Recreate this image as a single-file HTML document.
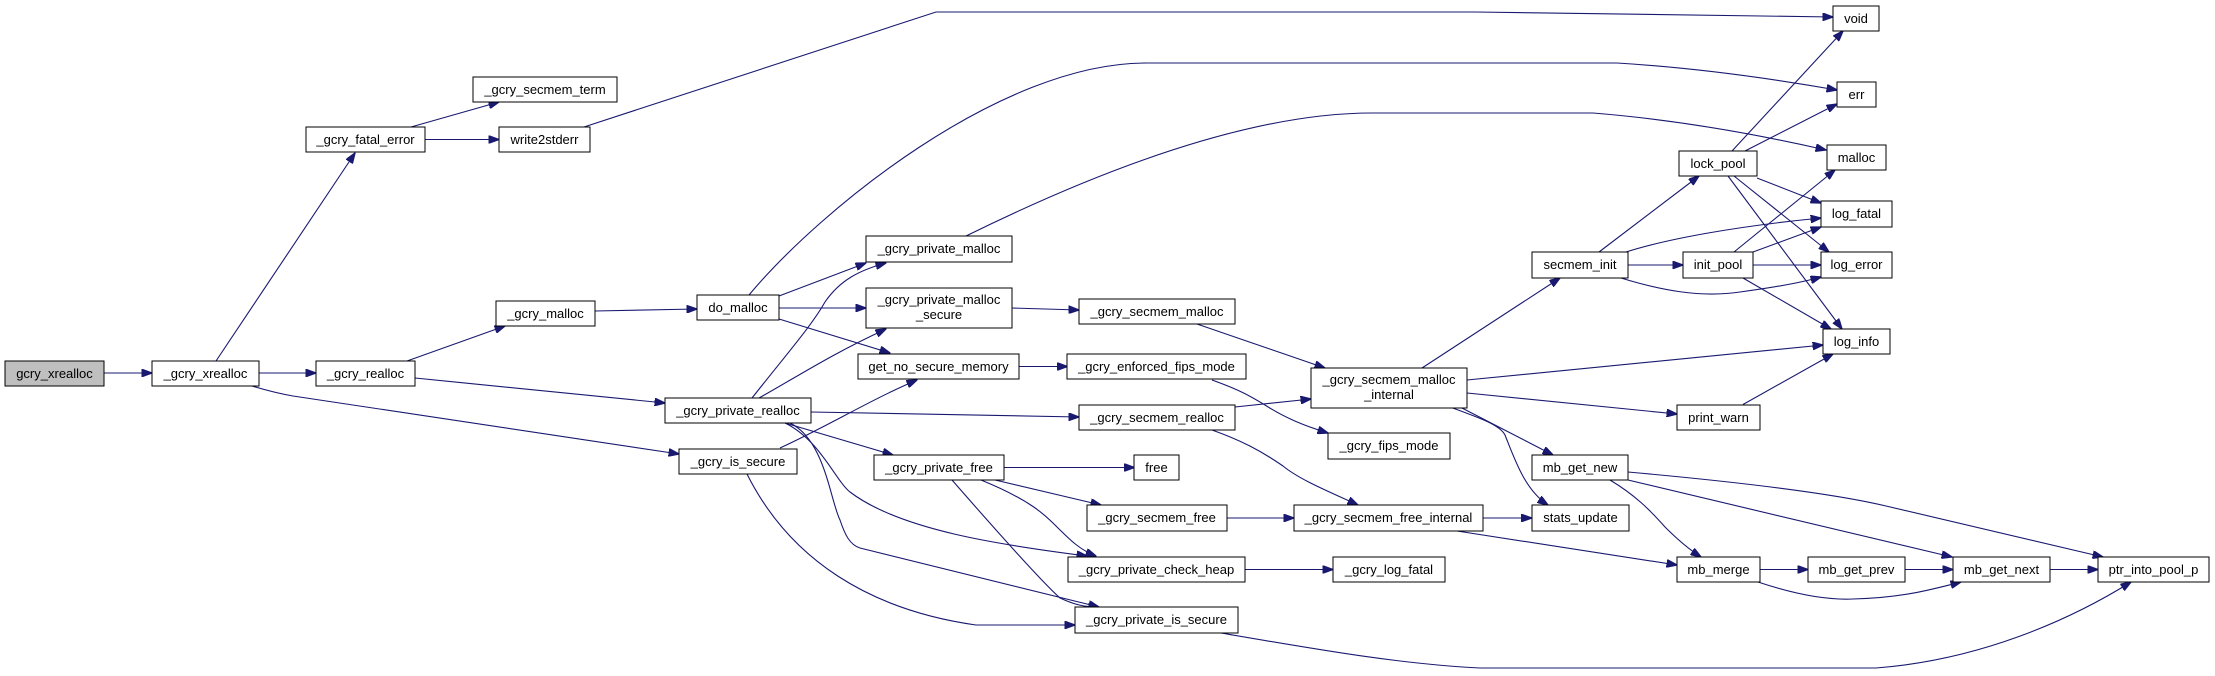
<!DOCTYPE html>
<html><head><meta charset="utf-8"><style>
html,body{margin:0;padding:0;background:#fff;}
svg{display:block}
text{font-family:"Liberation Sans",Arial,sans-serif;font-size:13px;fill:#000;text-anchor:middle}
.n{fill:#fff;stroke:#000;stroke-width:1}
.e{fill:none;stroke:#191970;stroke-width:1.1}
</style></head><body>
<svg width="2215" height="676" viewBox="0 0 2215 676" xmlns="http://www.w3.org/2000/svg">
<defs><marker id="a" markerWidth="11" markerHeight="8" refX="10.5" refY="4" orient="auto" markerUnits="userSpaceOnUse"><path d="M0,0 L11,4 L0,8 z" fill="#191970" stroke="#191970"/></marker></defs>
<g class="e" marker-end="url(#a)">
<path d="M104,373 L152,373"/>
<path d="M216,361 L355,153"/>
<path d="M259,373 L316,373"/>
<path d="M252,386 Q275,393 293,396 L679,454"/>
<path d="M411,127 L499,102"/>
<path d="M425,139.5 L499,139.5"/>
<path d="M584,127 L936,12 L1475,12 L1833,17"/>
<path d="M407,361 L505,326"/>
<path d="M415,378 L665,403"/>
<path d="M595,311 L697,309"/>
<path d="M749,295 C820,210 1000,63 1146,63 L1617,63 C1700,68 1780,80 1837,90"/>
<path d="M779,296 L866,263"/>
<path d="M779,308 L866,308"/>
<path d="M779,319 L890,353"/>
<path d="M966,236 C1100,170 1250,113 1372,113 L1593,113 C1680,120 1760,135 1826,150"/>
<path d="M1012,308 L1079,310"/>
<path d="M1197,324 L1325,368"/>
<path d="M1019,366.5 L1067.5,366.5"/>
<path d="M1212,380 C1240,390 1250,396 1265,405 C1285,418 1305,426 1328,433"/>
<path d="M752,398 C790,350 812,325 825,302 C840,280 860,270 886,263"/>
<path d="M759,398 C800,375 830,355 886,329"/>
<path d="M811,412 L1079,417"/>
<path d="M785,423 L893,455"/>
<path d="M785,423 C820,440 835,480 850,492 C900,530 1000,545 1087,556"/>
<path d="M790,423 C825,440 830,500 840,520 C845,535 850,545 860,548 L1099,607"/>
<path d="M780,448 C830,425 870,400 917,380"/>
<path d="M747,474 C790,560 870,610 976,625 L1075,625"/>
<path d="M1004,467.5 L1134.5,467.5"/>
<path d="M995,480 L1101,505"/>
<path d="M981,480 C1030,500 1045,515 1055,525 C1070,540 1080,550 1096,556"/>
<path d="M952,480 C1000,535 1040,580 1060,598 C1075,605 1085,607 1099,607"/>
<path d="M1227,518 L1294,518"/>
<path d="M1235,407 L1311,399"/>
<path d="M1212,430 C1240,440 1260,450 1283,466 C1300,480 1330,492 1358,505"/>
<path d="M1245,569.5 L1333,569.5"/>
<path d="M1221,633 C1320,650 1400,664 1480,668 L1876,668 C1980,660 2070,620 2131,582"/>
<path d="M1422,368 L1560,278"/>
<path d="M1467,380 L1823,345"/>
<path d="M1467,393 L1677,414"/>
<path d="M1460,407 L1553,455"/>
<path d="M1450,407 C1480,418 1500,425 1505,435 C1515,460 1525,490 1548,505"/>
<path d="M1483.5,518 L1531.6,518"/>
<path d="M1457,531 L1677,565"/>
<path d="M1599,252 L1699,176"/>
<path d="M1626,252 C1670,238 1740,226 1821,218"/>
<path d="M1628,265 L1683,265"/>
<path d="M1621,278 C1660,290 1700,298 1740,292 C1770,288 1800,283 1821,277"/>
<path d="M1734,252 L1835,170"/>
<path d="M1753,252 L1821,227"/>
<path d="M1753,265 L1821,265"/>
<path d="M1743,278 L1831,329"/>
<path d="M1732,151 L1843,31"/>
<path d="M1745,151 L1837,104"/>
<path d="M1757,178 L1821,203"/>
<path d="M1734,176 L1829,252"/>
<path d="M1728,176 L1842,329"/>
<path d="M1743,404.5 L1833,354"/>
<path d="M1610,480 C1635,495 1650,510 1665,527 C1680,542 1690,550 1701,557"/>
<path d="M1628,480 L1952,557"/>
<path d="M1628,472 C1750,483 1840,495 1886,506 L2103,557"/>
<path d="M1760,569.5 L1808,569.5"/>
<path d="M1758,582 C1800,596 1830,600 1853,599 C1900,598 1930,590 1961,582"/>
<path d="M1905,569.5 L1953,569.5"/>
<path d="M2050,569.5 L2098,569.5"/>
</g>
<g>
<rect x="5" y="361" width="99" height="25" fill="#bfbfbf" stroke="#000"/><text x="54.5" y="378">gcry_xrealloc</text>
<rect class="n" x="152" y="361" width="107" height="25"/><text x="205.5" y="378">_gcry_xrealloc</text>
<rect class="n" x="306" y="127" width="119" height="25"/><text x="365.5" y="144">_gcry_fatal_error</text>
<rect class="n" x="473" y="77" width="144" height="25"/><text x="545" y="94">_gcry_secmem_term</text>
<rect class="n" x="499" y="127" width="91" height="25"/><text x="544.5" y="144">write2stderr</text>
<rect class="n" x="496" y="301" width="99" height="25"/><text x="545.5" y="318">_gcry_malloc</text>
<rect class="n" x="697" y="295" width="82" height="25"/><text x="738" y="312">do_malloc</text>
<rect class="n" x="316" y="361" width="99" height="25"/><text x="365.5" y="378">_gcry_realloc</text>
<rect class="n" x="665" y="398" width="146" height="25"/><text x="738" y="415">_gcry_private_realloc</text>
<rect class="n" x="679" y="449" width="118" height="25"/><text x="738" y="466">_gcry_is_secure</text>
<rect class="n" x="866" y="236" width="146" height="26"/><text x="939" y="253">_gcry_private_malloc</text>
<rect class="n" x="866" y="288" width="146" height="40"/><text x="939" y="304">_gcry_private_malloc</text><text x="939" y="319">_secure</text>
<rect class="n" x="1079" y="299" width="156" height="25"/><text x="1157" y="316">_gcry_secmem_malloc</text>
<rect class="n" x="858" y="354" width="161" height="25"/><text x="938.5" y="371">get_no_secure_memory</text>
<rect class="n" x="1067" y="354" width="179" height="25"/><text x="1156.5" y="371">_gcry_enforced_fips_mode</text>
<rect class="n" x="1311" y="368" width="156" height="40"/><text x="1389" y="384">_gcry_secmem_malloc</text><text x="1389" y="399">_internal</text>
<rect class="n" x="1079" y="405" width="156" height="25"/><text x="1157" y="422">_gcry_secmem_realloc</text>
<rect class="n" x="1328" y="433" width="122" height="26"/><text x="1389" y="450">_gcry_fips_mode</text>
<rect class="n" x="874" y="455" width="130" height="25"/><text x="939" y="472">_gcry_private_free</text>
<rect class="n" x="1134" y="455" width="45" height="25"/><text x="1156.5" y="472">free</text>
<rect class="n" x="1087" y="505" width="140" height="26"/><text x="1157" y="522">_gcry_secmem_free</text>
<rect class="n" x="1294" y="505" width="189" height="26"/><text x="1388.5" y="522">_gcry_secmem_free_internal</text>
<rect class="n" x="1068" y="557" width="177" height="25"/><text x="1156.5" y="574">_gcry_private_check_heap</text>
<rect class="n" x="1333" y="557" width="112" height="25"/><text x="1389" y="574">_gcry_log_fatal</text>
<rect class="n" x="1075" y="607" width="163" height="26"/><text x="1156.5" y="624">_gcry_private_is_secure</text>
<rect class="n" x="1833" y="6" width="46" height="25"/><text x="1856" y="23">void</text>
<rect class="n" x="1837" y="82" width="39" height="25"/><text x="1856.5" y="99">err</text>
<rect class="n" x="1827" y="145" width="59" height="25"/><text x="1856.5" y="162">malloc</text>
<rect class="n" x="1679" y="151" width="78" height="25"/><text x="1718" y="168">lock_pool</text>
<rect class="n" x="1821" y="201" width="71" height="26"/><text x="1856.5" y="218">log_fatal</text>
<rect class="n" x="1532" y="252" width="96" height="26"/><text x="1580" y="269">secmem_init</text>
<rect class="n" x="1683" y="252" width="70" height="26"/><text x="1718" y="269">init_pool</text>
<rect class="n" x="1821" y="252" width="71" height="26"/><text x="1856.5" y="269">log_error</text>
<rect class="n" x="1823" y="329" width="67" height="25"/><text x="1856.5" y="346">log_info</text>
<rect class="n" x="1677" y="405" width="83" height="25"/><text x="1718.5" y="422">print_warn</text>
<rect class="n" x="1532" y="455" width="96" height="25"/><text x="1580" y="472">mb_get_new</text>
<rect class="n" x="1532" y="505" width="97" height="26"/><text x="1580.5" y="522">stats_update</text>
<rect class="n" x="1677" y="557" width="83" height="25"/><text x="1718.5" y="574">mb_merge</text>
<rect class="n" x="1808" y="557" width="97" height="25"/><text x="1856.5" y="574">mb_get_prev</text>
<rect class="n" x="1953" y="557" width="97" height="25"/><text x="2001.5" y="574">mb_get_next</text>
<rect class="n" x="2098" y="557" width="111" height="25"/><text x="2153.5" y="574">ptr_into_pool_p</text>
</g>
</svg>
</body></html>
